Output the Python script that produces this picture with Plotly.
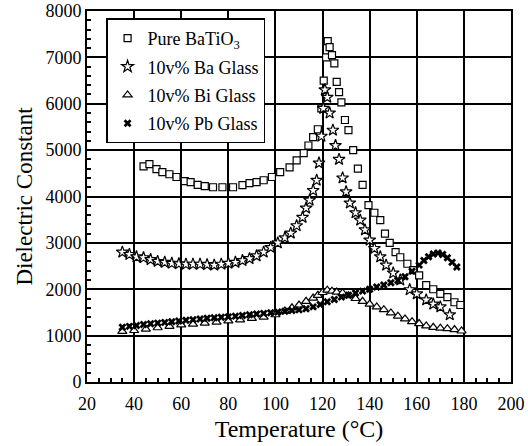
import plotly.graph_objects as go

# Pure BaTiO3
t_pure = [44, 46.5, 49.5, 52, 55, 58, 61.5, 64, 67, 70, 73.5, 77.5, 82, 86, 89, 92, 95, 98.5,
          102, 106, 109, 112, 114, 116, 118, 119.5, 120.5, 121.5, 122.2, 123, 124, 125, 126, 127,
          128, 129.5, 131, 133, 135, 137, 139.5, 142, 144.5, 146.5, 148.5, 151, 153, 156, 158.5,
          161, 164, 167, 170, 173, 176, 178.5]
v_pure = [4650, 4700, 4590, 4525, 4480, 4420, 4330, 4310, 4250, 4225, 4200, 4200, 4200, 4245,
          4290, 4310, 4350, 4420, 4525, 4630, 4780, 4935, 5100, 5280, 5450, 5900, 6500, 7000,
          7350, 7220, 7050, 6870, 6470, 6250, 6030, 5650, 5430, 5000, 4600, 4250, 3815, 3650,
          3490, 3200, 3000, 2800, 2690, 2550, 2414, 2300, 2090, 2000, 1900, 1830, 1720, 1660]

# 10v% Ba Glass
t_ba = [35, 38, 41, 44, 47, 50, 53, 56, 59, 62, 65, 68, 71, 74, 77, 80, 83, 86, 89, 92, 95, 98,
        101, 104, 106.5, 109, 111.5, 113, 114.5, 116, 117.5, 118.5, 119.5, 120.3, 121, 122, 123,
        124.4, 125.5, 127, 128.5, 130, 131.6, 134, 136, 138, 140, 142, 144.5, 147, 150, 153, 157,
        160, 164, 167, 170, 174]
v_ba = [2800, 2750, 2700, 2680, 2640, 2600, 2580, 2560, 2550, 2540, 2540, 2540, 2530, 2520, 2540,
        2560, 2580, 2620, 2660, 2720, 2800, 2900, 3000, 3110, 3210, 3370, 3550, 3750, 3920, 4130,
        4350, 4720, 5300, 5900, 6300, 6140, 5800, 5430, 5100, 4800, 4400, 4100, 3860, 3650, 3490,
        3280, 3060, 2880, 2700, 2520, 2350, 2200, 1990, 1900, 1770, 1680, 1620, 1450]

# 10v% Bi Glass
t_bi = [35, 40, 45, 50, 55, 60, 65, 70, 75, 80, 85, 90, 95, 100, 104, 107, 110, 113, 116, 118,
        120, 122, 124, 126, 128.5, 131, 134, 137, 140, 143, 146, 149, 152, 155, 158, 161, 164,
        167, 170, 173, 176, 179]
v_bi = [1090, 1110, 1140, 1170, 1200, 1230, 1250, 1270, 1290, 1320, 1340, 1370, 1400, 1450, 1530,
        1600, 1660, 1740, 1810, 1870, 1930, 1980, 1960, 1940, 1920, 1860, 1800, 1740, 1680, 1620,
        1560, 1490, 1420, 1360, 1300, 1260, 1210, 1180, 1160, 1150, 1130, 1100]

# 10v% Pb Glass
t_pb = [35, 38, 41, 44, 47, 50, 53, 56, 59, 62, 65, 68, 71, 74, 77, 80, 83, 86, 89, 92, 95, 98,
        101, 104, 107, 110, 113, 116, 119, 122, 125, 128, 131, 134, 137, 140, 143, 146, 149, 152,
        155, 158, 161, 163, 165, 167, 169, 171, 173, 175, 177]
v_pb = [1180, 1200, 1220, 1240, 1255, 1270, 1285, 1300, 1315, 1330, 1345, 1360, 1375, 1385, 1395,
        1405, 1420, 1435, 1450, 1465, 1480, 1495, 1510, 1525, 1540, 1555, 1580, 1620, 1670, 1730,
        1780, 1830, 1870, 1920, 1960, 2000, 2050, 2090, 2140, 2190, 2270, 2390, 2520, 2620, 2700,
        2760, 2780, 2750, 2680, 2580, 2480]

x_ticks = [20, 40, 60, 80, 100, 120, 140, 160, 180, 200]
y_ticks = [0, 1000, 2000, 3000, 4000, 5000, 6000, 7000, 8000]

FONT = "Liberation Serif"

fig = go.Figure()
fig.add_trace(go.Scatter(x=t_pure, y=v_pure, mode="markers", name="Pure BaTiO<sub>3</sub>",
                         legendgroup="a",
                         marker=dict(symbol="square", size=7, color="white",
                                     line=dict(color="black", width=1.2))))
fig.add_trace(go.Scatter(x=t_ba, y=v_ba, mode="markers", name="10v% Ba Glass",
                         legendgroup="b",
                         marker=dict(symbol="star", size=9, color="white",
                                     line=dict(color="black", width=1.2))))
fig.add_trace(go.Scatter(x=t_bi, y=v_bi, mode="markers", name="10v% Bi Glass",
                         legendgroup="c",
                         marker=dict(symbol="triangle-up", size=8, color="white",
                                     line=dict(color="black", width=1.2))))
fig.add_trace(go.Scatter(x=t_pb, y=v_pb, mode="markers", name="10v% Pb Glass",
                         legendgroup="d",
                         marker=dict(symbol="x", size=7, color="black",
                                     line=dict(color="black", width=0))))

axis_common = dict(showline=True, linecolor="black", linewidth=2, mirror=True,
                   showgrid=True, gridcolor="black", gridwidth=2, zeroline=False,
                   ticks="inside", tickcolor="black", ticklen=5, tickwidth=1.5,
                   automargin=False,
                   tickfont=dict(family=FONT, size=18, color="black"))

fig.update_xaxes(range=[20, 200], tickvals=x_ticks, ticklabelstandoff=4,
                 title=dict(text="Temperature (°C)", font=dict(family=FONT, size=24, color="black"),
                            standoff=8),
                 minor=dict(dtick=5, ticks="inside", ticklen=4, tickcolor="black", tickwidth=1.5,
                            showgrid=False),
                 **axis_common)
fig.update_yaxes(range=[0, 8000], tickvals=y_ticks,
                 title=dict(text="Dielectric Constant", font=dict(family=FONT, size=23, color="black"),
                            standoff=6),
                 minor=dict(dtick=200, ticks="inside", ticklen=4, tickcolor="black", tickwidth=1.5,
                            showgrid=False),
                 **axis_common)

fig.update_layout(
    width=528, height=446,
    margin=dict(l=87, r=17, t=11, b=64),
    paper_bgcolor="white", plot_bgcolor="white",
    font=dict(family=FONT, color="black"),
    legend=dict(x=0.045, y=0.98, xanchor="left", yanchor="top",
                bgcolor="white", bordercolor="black", borderwidth=1.5,
                font=dict(family=FONT, size=18, color="black"),
                traceorder="grouped", tracegroupgap=2, itemwidth=30),
)

fig.write_html("out.html")
